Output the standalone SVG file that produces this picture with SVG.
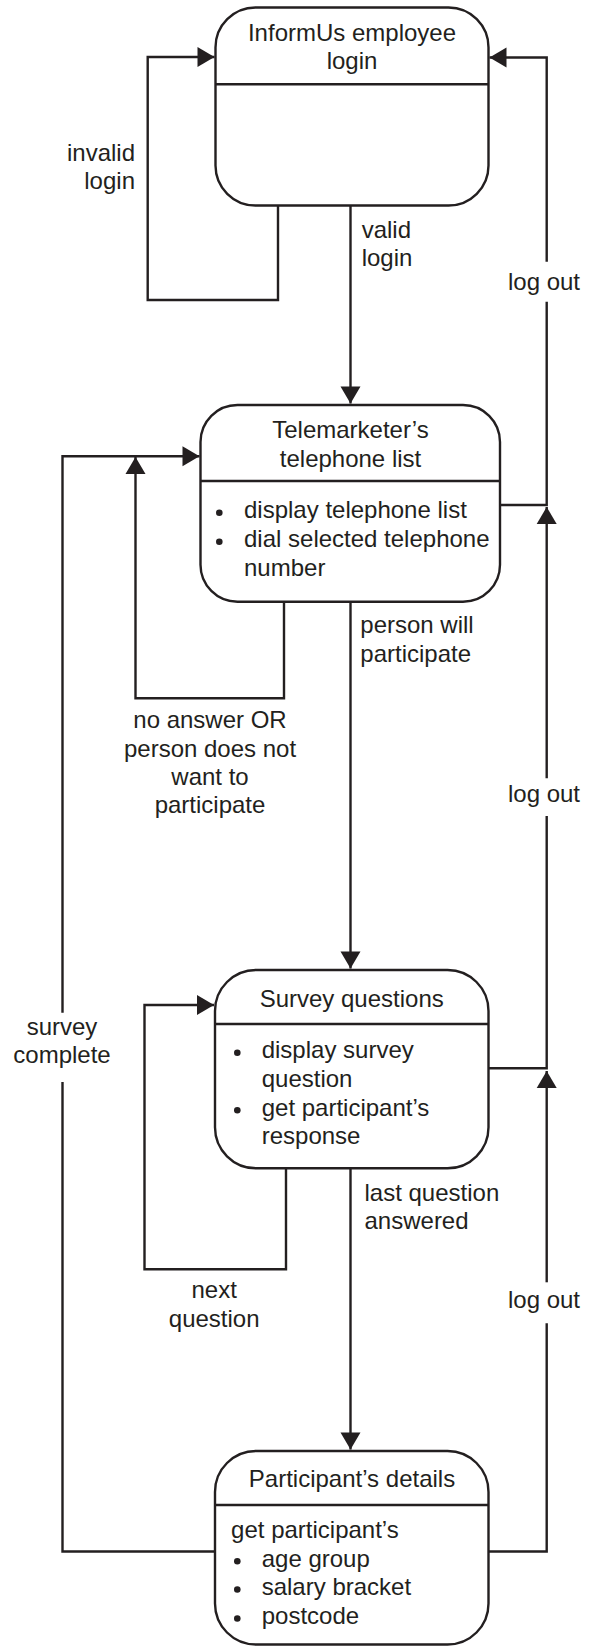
<svg xmlns="http://www.w3.org/2000/svg" width="592" height="1647" viewBox="0 0 592 1647">
  <style>
    .box { fill: #ffffff; stroke: #231f20; stroke-width: 2.4; }
    .div { stroke: #231f20; stroke-width: 2.4; }
    .wire { fill: none; stroke: #231f20; stroke-width: 2.4; stroke-linejoin: miter; }
    .arr { marker-end: url(#head); }
    text { font-family: "Liberation Sans", Arial, Helvetica, sans-serif; font-size: 24px; fill: #231f20; }
    .c { text-anchor: middle; }
    .e { text-anchor: end; }
    .dot { fill: #231f20; }
  </style>
  <defs>
    <marker id="head" markerUnits="userSpaceOnUse" markerWidth="18" markerHeight="20" refX="17" refY="10" orient="auto" overflow="visible">
      <path d="M0,0 L17,10 L0,20 Z" fill="#231f20"/>
    </marker>
  </defs>

  <!-- connectors -->
  <g id="connectors">
    <!-- invalid login: self loop on the login state -->
    <path class="wire arr" d="M278,205.5 V300 H147.7 V57 H214.5"/>
    <!-- valid login -->
    <path class="wire arr" d="M350.5,205.5 V403.5"/>
    <!-- log out from the telephone list, up to the login state -->
    <path class="wire" d="M500,505 H546.7 V301.7"/>
    <path class="wire arr" d="M546.7,261.7 V57.5 H489.5"/>
    <!-- log out from survey questions -->
    <path class="wire" d="M488.5,1068.3 H546.7 V816"/>
    <path class="wire arr" d="M546.7,778.3 V507"/>
    <!-- log out from participant's details -->
    <path class="wire" d="M488.5,1551.5 H546.7 V1323.3"/>
    <path class="wire arr" d="M546.7,1282.3 V1071"/>
    <!-- no answer OR person does not want to participate -->
    <path class="wire arr" d="M284,601.7 V698.3 H135.5 V457"/>
    <!-- survey complete: back to the telephone list -->
    <path class="wire" d="M215,1551.5 H62.5 V1082"/>
    <path class="wire arr" d="M62.5,1012.7 V456.3 H199.5"/>
    <!-- person will participate -->
    <path class="wire arr" d="M350.5,601.7 V968.5"/>
    <!-- next question: self loop on survey questions -->
    <path class="wire arr" d="M286,1168.3 V1269.3 H144.5 V1005 H214"/>
    <!-- last question answered -->
    <path class="wire arr" d="M350.5,1168.3 V1449.5"/>
  </g>

  <!-- connector labels -->
  <g id="labels">
    <text class="e" x="135" y="160.7">invalid</text>
    <text class="e" x="135" y="189.3">login</text>
    <text x="361.7" y="238.3">valid</text>
    <text x="361.7" y="265.7">login</text>
    <text class="c" x="544" y="290">log out</text>
    <text x="360.3" y="633.3">person will</text>
    <text x="360.3" y="661.7">participate</text>
    <text class="c" x="210" y="728.3">no answer OR</text>
    <text class="c" x="210" y="756.7">person does not</text>
    <text class="c" x="210" y="785">want to</text>
    <text class="c" x="210" y="813.3">participate</text>
    <text class="c" x="544" y="801.7">log out</text>
    <text class="c" x="62" y="1035">survey</text>
    <text class="c" x="62" y="1063.3">complete</text>
    <text x="364.5" y="1200.7">last question</text>
    <text x="364.5" y="1229.3">answered</text>
    <text class="c" x="214.2" y="1298.3">next</text>
    <text class="c" x="214.2" y="1326.7">question</text>
    <text class="c" x="544" y="1308.3">log out</text>
  </g>

  <!-- state: employee login -->
  <g id="login">
    <rect class="box" x="215.5" y="7.5" width="273" height="198" rx="40" ry="40"/>
    <line class="div" x1="215.5" y1="84.3" x2="488.5" y2="84.3"/>
    <text class="c" x="352" y="40.7">InformUs employee</text>
    <text class="c" x="352" y="69">login</text>
  </g>

  <!-- state: telephone list -->
  <g id="telephone-list">
    <rect class="box" x="200.5" y="405" width="299.5" height="196.7" rx="37" ry="37"/>
    <line class="div" x1="200.5" y1="481" x2="500" y2="481"/>
    <text class="c" x="350.5" y="438.3">Telemarketer’s</text>
    <text class="c" x="350.5" y="466.7">telephone list</text>
    <circle class="dot" cx="219.3" cy="512.8" r="3.3"/>
    <text x="244" y="518.3">display telephone list</text>
    <circle class="dot" cx="219.3" cy="541.8" r="3.3"/>
    <text x="244" y="547.3">dial selected telephone</text>
    <text x="244" y="576">number</text>
  </g>

  <!-- state: survey questions -->
  <g id="survey-questions">
    <rect class="box" x="215" y="970" width="273.5" height="198.3" rx="41" ry="41"/>
    <line class="div" x1="215" y1="1024" x2="488.5" y2="1024"/>
    <text class="c" x="351.7" y="1006.7">Survey questions</text>
    <circle class="dot" cx="237.3" cy="1052.8" r="3.3"/>
    <text x="261.7" y="1058.3">display survey</text>
    <text x="261.7" y="1086.7">question</text>
    <circle class="dot" cx="237.3" cy="1110.2" r="3.3"/>
    <text x="261.7" y="1115.7">get participant’s</text>
    <text x="261.7" y="1144.3">response</text>
  </g>

  <!-- state: participant's details -->
  <g id="participant-details">
    <rect class="box" x="215" y="1451" width="273.5" height="193.5" rx="41" ry="41"/>
    <line class="div" x1="215" y1="1505" x2="488.5" y2="1505"/>
    <text class="c" x="352" y="1486.7">Participant’s details</text>
    <text x="231.1" y="1538.3">get participant’s</text>
    <circle class="dot" cx="237.3" cy="1561.2" r="3.3"/>
    <text x="261.7" y="1566.7">age group</text>
    <circle class="dot" cx="237.3" cy="1589.5" r="3.3"/>
    <text x="261.7" y="1595">salary bracket</text>
    <circle class="dot" cx="237.3" cy="1618.5" r="3.3"/>
    <text x="261.7" y="1624">postcode</text>
  </g>
</svg>
